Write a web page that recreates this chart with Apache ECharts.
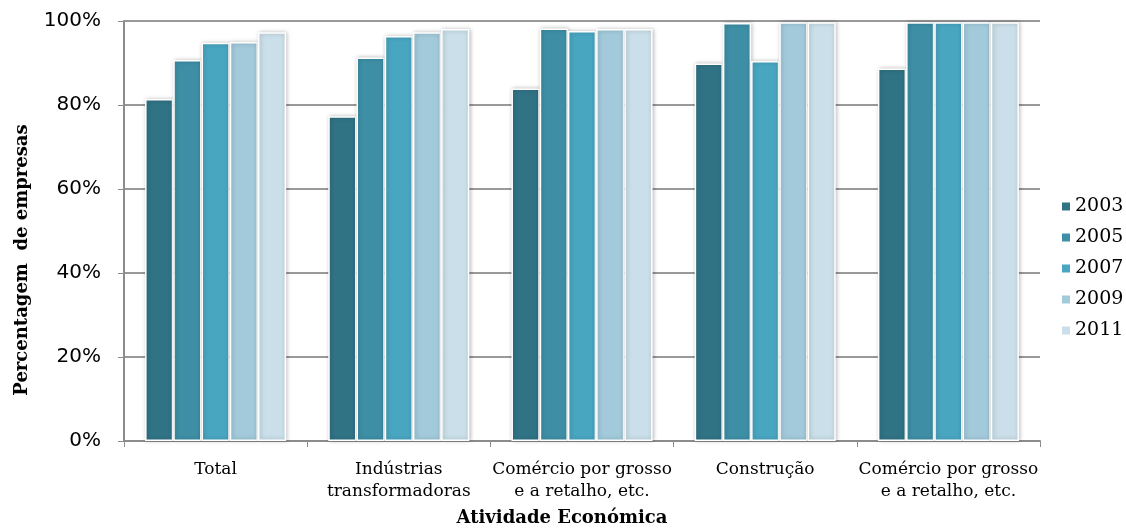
<!DOCTYPE html>
<html>
<head>
<meta charset="utf-8">
<script src="https://cdn.jsdelivr.net/npm/echarts@6/dist/echarts.min.js"></script>
<style>
  html, body { margin: 0; padding: 0; background: #fff; }
  #chart { width: 1126px; height: 529px; }
</style>
</head>
<body>
<div id="chart"></div>
<script>
// Share of firms by economic activity, per survey year
const categories = [
  'Total',
  'Indústrias\ntransformadoras',
  'Comércio por grosso\ne a retalho, etc.',
  'Construção',
  'Comércio por grosso\ne a retalho, etc.'
];
const years = ['2003', '2005', '2007', '2009', '2011'];
const v2003 = [81.4, 77.3, 83.9, 89.9, 88.7];
const v2005 = [90.7, 91.3, 98.2, 99.5, 99.7];
const v2007 = [94.8, 96.4, 97.6, 90.5, 99.7];
const v2009 = [95.0, 97.3, 98.1, 99.7, 99.7];
const v2011 = [97.3, 98.1, 98.1, 99.7, 99.7];
const yTicks = [0, 20, 40, 60, 80, 100];
const xTitle = 'Atividade Económica';
const yTitle = 'Percentagem  de empresas';

const seriesValues = [v2003, v2005, v2007, v2009, v2011];
const colors = ['#307385', '#3e8fa6', '#49a6c1', '#a2cadb', '#cadfe9'];
const serif = 'DejaVu Serif';

const chart = echarts.init(document.getElementById('chart'));
chart.setOption({
  animation: false,
  color: colors,
  grid: { left: 124, right: 86, top: 21, bottom: 88, containLabel: false },
  legend: {
    orient: 'vertical',
    left: 1055,
    top: 192,
    itemWidth: 10,
    itemHeight: 10,
    itemGap: 12,
    icon: 'rect',
    textStyle: { fontFamily: serif, fontSize: 19, color: '#000', padding: [0, 0, 0, -1] },
    data: years
  },
  graphic: [
    {
      type: 'text',
      x: 562,
      y: 518,
      style: {
        text: xTitle,
        fontFamily: serif,
        fontWeight: 'bold',
        fontSize: 18,
        fill: '#000',
        align: 'center',
        verticalAlign: 'middle'
      }
    },
    {
      type: 'text',
      x: 22,
      y: 260,
      rotation: Math.PI / 2,
      style: {
        text: yTitle,
        fontFamily: serif,
        fontWeight: 'bold',
        fontSize: 18,
        fill: '#000',
        align: 'center',
        verticalAlign: 'middle'
      }
    }
  ],
  xAxis: {
    type: 'category',
    data: categories,
    axisLine: { lineStyle: { color: '#8c8c8c', width: 2 } },
    axisTick: { show: true, length: 6, lineStyle: { color: '#8c8c8c', width: 1 } },
    axisLabel: {
      interval: 0,
      margin: 18,
      fontFamily: serif,
      fontSize: 17,
      lineHeight: 22,
      color: '#000'
    }
  },
  yAxis: {
    type: 'value',
    min: 0,
    max: 100,
    interval: 20,
    axisLine: { show: true, lineStyle: { color: '#8c8c8c', width: 2 } },
    axisTick: { show: true, length: 6, lineStyle: { color: '#8c8c8c', width: 1 } },
    axisLabel: {
      margin: 23,
      fontFamily: 'DejaVu Sans',
      fontSize: 20,
      color: '#000',
      formatter: v => (yTicks.includes(v) ? v + '%' : '')
    },
    splitLine: { show: true, lineStyle: { color: '#999', width: 2 } }
  },
  series: years.map((y, i) => ({
    name: y,
    type: 'bar',
    data: seriesValues[i],
    barGap: '0%',
    barCategoryGap: '23%',
    itemStyle: {
      color: colors[i],
      borderColor: '#ffffff',
      borderWidth: 1.5,
      shadowBlur: 4,
      shadowColor: 'rgba(0,0,0,0.25)',
      shadowOffsetX: 1,
      shadowOffsetY: 0
    }
  }))
});
</script>
</body>
</html>
